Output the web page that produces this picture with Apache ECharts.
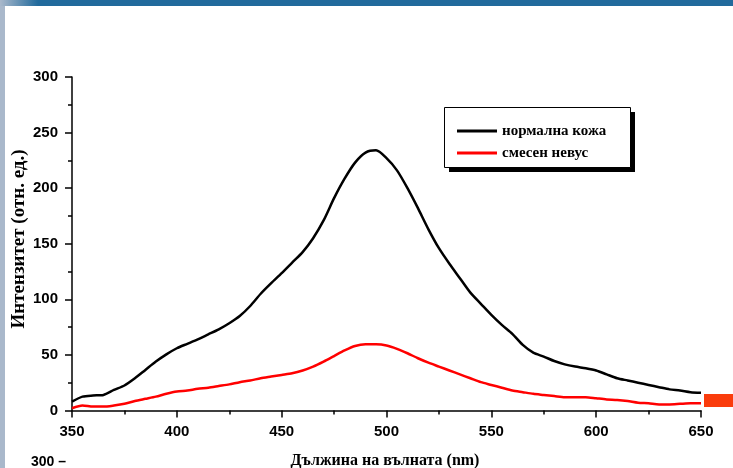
<!DOCTYPE html>
<html lang="bg">
<head>
  <meta charset="UTF-8" />
  <title>Интензитет - дължина на вълната</title>
  <script src="https://cdn.jsdelivr.net/npm/echarts@6.0.0/dist/echarts.min.js"></script>
  <style>
    html, body { margin: 0; padding: 0; background: #ffffff; }
    #chart { width: 733px; height: 468px; }
  </style>
</head>
<body>
  <div id="chart"></div>
  <script>
    // 数据：波长 (nm)，每 5 nm 一个点
    const wavelengths = [
      350, 355, 360, 365, 370, 375, 380, 385, 390, 395,
      400, 405, 410, 415, 420, 425, 430, 435, 440, 445,
      450, 455, 460, 465, 470, 475, 480, 485, 490, 495,
      500, 505, 510, 515, 520, 525, 530, 535, 540, 545,
      550, 555, 560, 565, 570, 575, 580, 585, 590, 595,
      600, 605, 610, 615, 620, 625, 630, 635, 640, 645, 650
    ];
    // нормална кожа
    const normalSkin = [
      8, 12.5, 13.5, 14, 18.5, 22.5, 29, 36.5, 44, 50.5,
      56, 60, 64, 68.5, 73, 78.5, 85, 94, 105, 114.5,
      123.5, 133, 142.5, 155, 171, 191, 208.5, 223, 232, 234,
      227, 216, 200, 182, 163, 146, 132, 119, 106, 96,
      86, 77, 69, 59, 52, 48.5, 44.5, 41.5, 39.5, 38,
      36, 32.5, 29, 27, 25, 23, 21, 19, 18, 16.5, 16
    ];
    // смесен невус
    const mixedNevus = [
      2, 4.5, 3.5, 3.5, 4.5, 6, 8.5, 10.5, 12.5, 15,
      17, 18, 19.5, 20.5, 22, 23.5, 25.5, 27, 29, 30.5,
      32, 33.5, 36, 39.5, 44, 49, 54, 58, 59.5, 59.5,
      58.5, 55.5, 51.5, 47, 43, 39.5, 36, 32.5, 29, 25.5,
      23, 20.5, 18, 16.5, 15, 14, 13, 12, 12, 12,
      11, 10, 9.5, 8.5, 7, 6.5, 5.5, 5.5, 6, 6.5, 6.5
    ];
    const seriesNames = ['нормална кожа', 'смесен невус'];
    const seriesColors = ['#000000', '#ff0000'];

    const chart = echarts.init(document.getElementById('chart'));

    function pairs(vals) {
      return wavelengths.map((w, i) => [w, vals[i]]);
    }

    const axisCommon = {
      type: 'value',
      interval: 50,
      axisLine: { show: true, lineStyle: { color: '#000', width: 1.5 } },
      axisTick: { show: true, length: 7, lineStyle: { color: '#000', width: 1.5 } },
      minorTick: { show: true, splitNumber: 2, length: 4, lineStyle: { color: '#000', width: 1.5 } },
      splitLine: { show: false },
      axisLabel: {
        color: '#000',
        fontFamily: 'Liberation Sans',
        fontWeight: 'bold',
        fontSize: 15,
        margin: 14
      }
    };

    const option = {
      animation: false,
      backgroundColor: '#ffffff',
      grid: { left: 72, right: 32, top: 77, bottom: 57.5, containLabel: false },
      xAxis: Object.assign({}, axisCommon, { min: 350, max: 650 }),
      yAxis: Object.assign({}, axisCommon, { min: 0, max: 300 }),
      legend: {
        orient: 'vertical',
        left: 452,
        top: 118,
        z: 20,
        data: seriesNames,
        icon: 'rect',
        itemWidth: 40,
        itemHeight: 3,
        itemGap: 6,
        textStyle: {
          color: '#000',
          fontFamily: 'Liberation Serif',
          fontWeight: 'bold',
          fontSize: 15,
          lineHeight: 16
        }
      },
      graphic: [
        // 左侧竖条和顶部蓝条
        { type: 'rect', left: 0, top: 0, shape: { width: 5, height: 468 }, style: { fill: '#a9b8cb' }, z: 10 },
        { type: 'rect', left: 0, top: 0, shape: { width: 733, height: 6 }, style: { fill: '#216a9c' }, z: 10 },
        {
          type: 'rect', left: 0, top: 0, shape: { width: 38, height: 6 }, z: 11,
          style: {
            fill: new echarts.graphic.LinearGradient(0, 0, 1, 0, [
              { offset: 0, color: '#a9b8cb' },
              { offset: 1, color: '#216a9c' }
            ])
          }
        },
        // 图例框 + 阴影
        { type: 'rect', left: 449, top: 112, shape: { width: 186, height: 60 }, style: { fill: '#000' }, z: 5 },
        { type: 'rect', left: 444, top: 107, shape: { width: 186, height: 60 }, style: { fill: '#fff', stroke: '#000', lineWidth: 1 }, z: 6 },
        // 右下角红块
        { type: 'rect', left: 704, top: 394, shape: { width: 29, height: 13 }, style: { fill: '#fa3c0c' }, z: 10 },
        // 坐标轴标题
        {
          type: 'text', x: 385, y: 461, z: 10,
          style: {
            text: 'Дължина на вълната (nm)',
            font: 'bold 16px "Liberation Serif"',
            fill: '#000',
            align: 'center',
            verticalAlign: 'middle'
          }
        },
        {
          type: 'text', x: 19, y: 239, rotation: Math.PI / 2, z: 10,
          style: {
            text: 'Интензитет (отн. ед.)',
            font: 'bold 19px "Liberation Serif"',
            fill: '#000',
            align: 'center',
            verticalAlign: 'middle'
          }
        },
        // 下一个图的残留刻度
        {
          type: 'text', left: 31, top: 455, z: 10,
          style: { text: '300 –', font: 'bold 14px "Liberation Sans"', fill: '#000' }
        }
      ],
      series: seriesNames.map((name, i) => ({
        name: name,
        type: 'line',
        data: pairs(i === 0 ? normalSkin : mixedNevus),
        showSymbol: false,
        smooth: 0.25,
        z: 3,
        lineStyle: { color: seriesColors[i], width: 2.5 },
        itemStyle: { color: seriesColors[i] }
      }))
    };

    chart.setOption(option);
  </script>
</body>
</html>
